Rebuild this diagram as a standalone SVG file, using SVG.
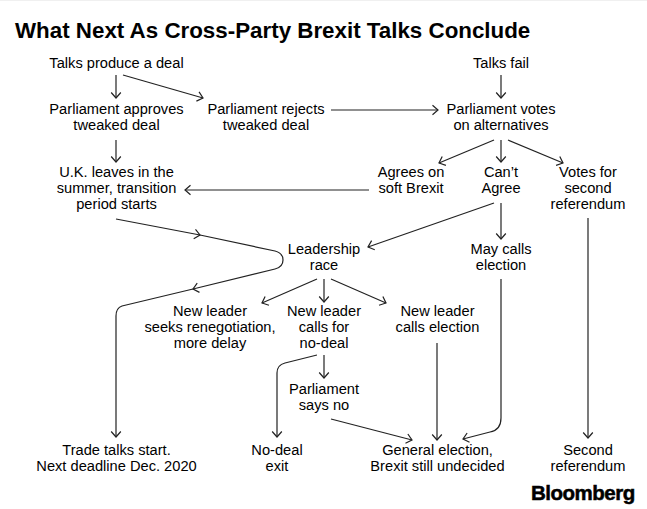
<svg xmlns="http://www.w3.org/2000/svg" width="647" height="509" viewBox="0 0 647 509">
<style>
text{font-family:"Liberation Sans",Arial,sans-serif;fill:#000}
.t{font-size:14.65px;text-anchor:middle}
.title{font-size:22.35px;font-weight:700}
.logo{font-size:20.5px;font-weight:700;stroke:#000;stroke-width:.5px;letter-spacing:-.5px}
.c path{fill:none;stroke:#222;stroke-width:1.2}
.e path{marker-end:url(#a)}
</style>
<defs>
<marker id="a" markerUnits="userSpaceOnUse" markerWidth="14" markerHeight="14" refX="9" refY="7" orient="auto"><path d="M3.5 2.200 9 7 3.500 11.800" fill="none" stroke="#222" stroke-width="1.2"/></marker>
</defs>
<rect width="647" height="509" fill="#fff"/>
<rect width="647" height="1" fill="#f0f0f0"/>
<text id="title" class="title" x="15" y="38">What Next As Cross-Party Brexit Talks Conclude</text>
<g id="connectors" class="c e">
<path d="M116 75V98"/>
<path d="M123 75 203 98"/>
<path d="M116 140V162"/>
<path d="M331 110H438"/>
<path d="M501 75V98"/>
<path d="M494 140 439 163"/>
<path d="M501 140V162"/>
<path d="M508 140 563 163"/>
<path d="M369 190H185"/>
<path d="M494 203 368 247"/>
<path d="M501 203V239"/>
<path d="M588 218V438"/>
<path d="M116 219 200 235"/>
<path d="M200 235 275 251Q283 253 283 260 283 267 275 269L193 289"/>
<path d="M193 289 122 306Q116 308 116 316V437"/>
<path d="M317 279 262 303"/>
<path d="M324 279V302"/>
<path d="M331 279 386 303"/>
<path d="M317 355 285 363Q277 365 277 373V437"/>
<path d="M324 355V378"/>
<path d="M331 419 412 440"/>
<path d="M437 343V440"/>
<path d="M501 279V418Q501 430 490 432L463 439"/>
</g>
<g id="n1"><text class="t" x="116.500" y="68">Talks produce a deal</text></g>
<g id="n2"><text class="t" x="501" y="68">Talks fail</text></g>
<g id="n3"><text class="t"><tspan x="116.500" y="114">Parliament approves</tspan><tspan x="116.500" y="130">tweaked deal</tspan></text></g>
<g id="n4"><text class="t"><tspan x="266" y="114">Parliament rejects</tspan><tspan x="266" y="130">tweaked deal</tspan></text></g>
<g id="n5"><text class="t"><tspan x="501" y="114">Parliament votes</tspan><tspan x="501" y="130">on alternatives</tspan></text></g>
<g id="n6"><text class="t"><tspan x="116.500" y="177">U.K. leaves in the</tspan><tspan x="116.500" y="193">summer, transition</tspan><tspan x="116.500" y="209">period starts</tspan></text></g>
<g id="n7"><text class="t"><tspan x="411" y="177">Agrees on</tspan><tspan x="411" y="193">soft Brexit</tspan></text></g>
<g id="n8"><text class="t"><tspan x="501" y="177">Can’t</tspan><tspan x="501" y="193">Agree</tspan></text></g>
<g id="n9"><text class="t"><tspan x="588" y="177">Votes for</tspan><tspan x="588" y="193">second</tspan><tspan x="588" y="209">referendum</tspan></text></g>
<g id="n10"><text class="t"><tspan x="324" y="254">Leadership</tspan><tspan x="324" y="270">race</tspan></text></g>
<g id="n11"><text class="t"><tspan x="501" y="254">May calls</tspan><tspan x="501" y="270">election</tspan></text></g>
<g id="n12"><text class="t"><tspan x="210" y="316">New leader</tspan><tspan x="210" y="332">seeks renegotiation,</tspan><tspan x="210" y="348">more delay</tspan></text></g>
<g id="n13"><text class="t"><tspan x="324" y="316">New leader</tspan><tspan x="324" y="332">calls for</tspan><tspan x="324" y="348">no-deal</tspan></text></g>
<g id="n14"><text class="t"><tspan x="437.500" y="316">New leader</tspan><tspan x="437.500" y="332">calls election</tspan></text></g>
<g id="n15"><text class="t"><tspan x="324" y="394">Parliament</tspan><tspan x="324" y="410">says no</tspan></text></g>
<g id="n16"><text class="t"><tspan x="116.500" y="455">Trade talks start.</tspan><tspan x="116.500" y="471">Next deadline Dec. 2020</tspan></text></g>
<g id="n17"><text class="t"><tspan x="277" y="455">No-deal</tspan><tspan x="277" y="471">exit</tspan></text></g>
<g id="n18"><text class="t"><tspan x="437.500" y="455">General election,</tspan><tspan x="437.500" y="471">Brexit still undecided</tspan></text></g>
<g id="n19"><text class="t"><tspan x="588" y="455">Second</tspan><tspan x="588" y="471">referendum</tspan></text></g>
<text id="logo" class="logo" x="531" y="500">Bloomberg</text>
</svg>
